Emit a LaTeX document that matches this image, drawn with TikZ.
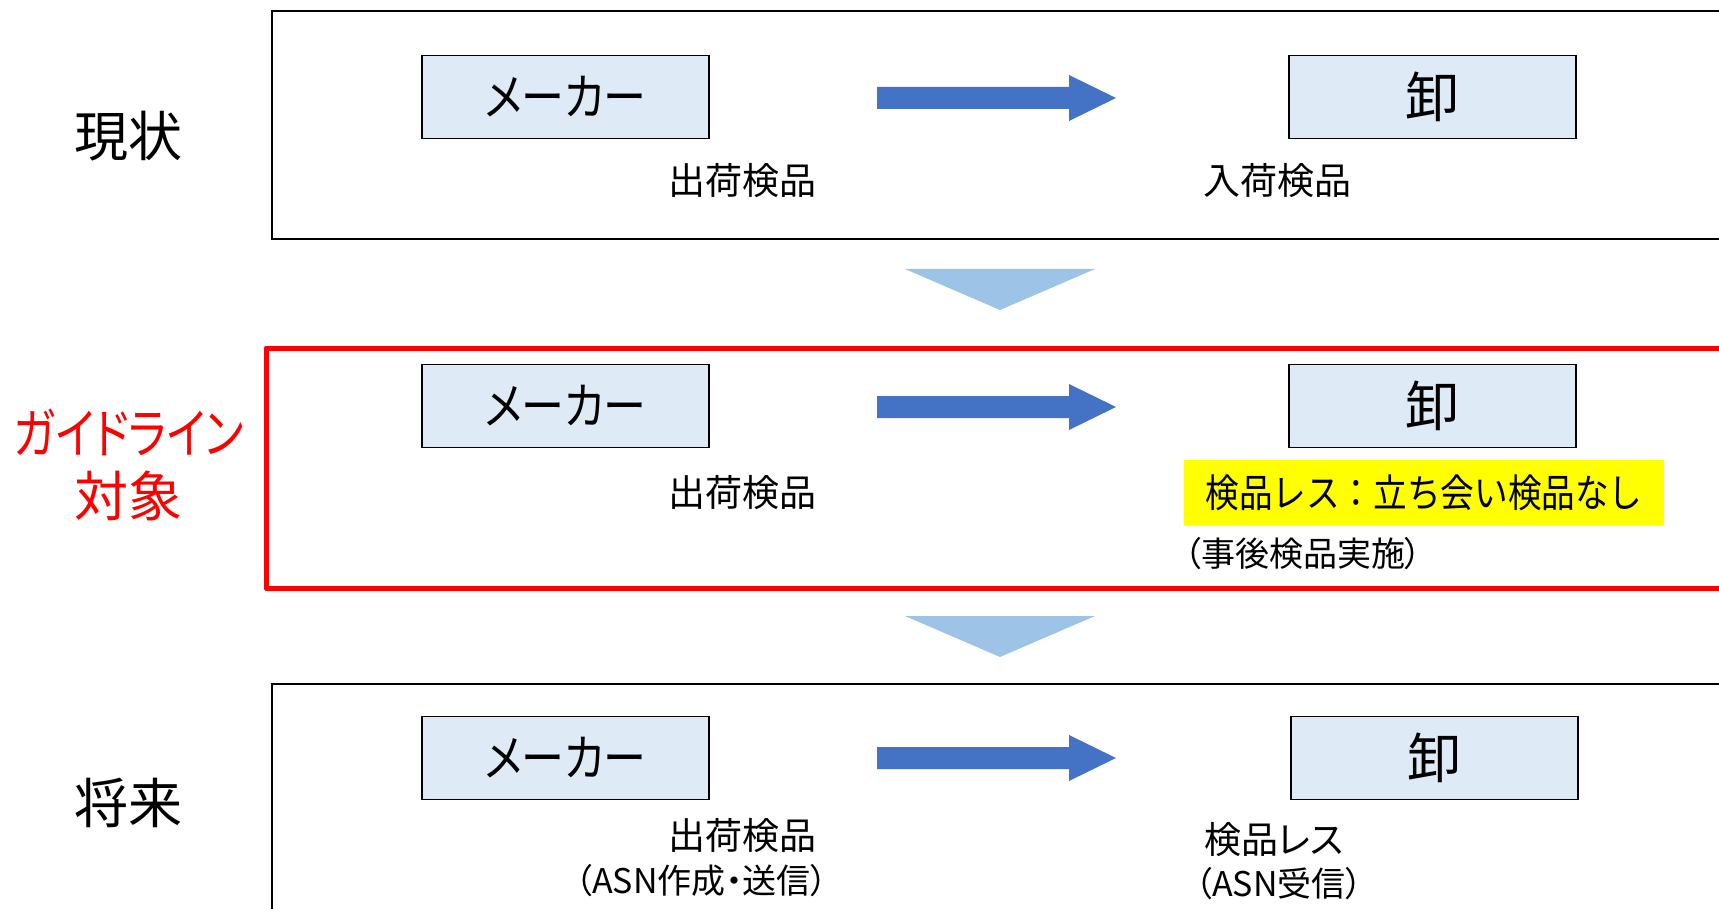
\documentclass[tikz,border=0pt]{standalone}
\usepackage{fontspec}
\usepackage{graphicx}
\setmainfont{Noto Sans CJK JP}
\newfontfamily\pf{Noto Sans CJK JP}[RawFeature=+palt]
\definecolor{boxblue}{HTML}{DEEBF7}
\definecolor{flowblue}{HTML}{4472C4}
\definecolor{triblue}{HTML}{9DC3E6}
\definecolor{hiyellow}{HTML}{FFFF00}
\begin{document}
\begin{tikzpicture}[x=1pt,y=-1pt,
  frame/.style={draw=black,line width=1.8pt},
  redframe/.style={draw=red,line width=5pt,line join=round},
  party/.style={draw=black,line width=1.6pt,fill=boxblue,minimum width=287pt,minimum height=83pt,inner sep=0pt,font=\fontsize{50}{54}\selectfont\pf},
  lbl/.style={inner sep=0pt,font=\fontsize{37}{44}\selectfont},
  side/.style={inner sep=0pt,font=\fontsize{54}{60}\selectfont\pf},
  bigarrow/.pic={\fill[flowblue] (0,-11) -- (192,-11) -- (192,-23) -- (239,0) -- (192,23) -- (192,11) -- (0,11) -- cycle;},
  downtri/.pic={\fill[triblue] (-95,0) -- (95,0) -- (0,41) -- cycle;}
]
\useasboundingbox (0,0) rectangle (1719,909);
\clip (0,0) rectangle (1719,909);
\fill[white] (0,0) rectangle (1719,909);

% frames
\draw[frame] (272,11) rectangle (1740,239);
\draw[redframe] (266,348) rectangle (1740,588);
\draw[frame] (272,684) rectangle (1740,930);

% side labels
\node[side] (now) at (128,136) {現状};
\node[side,text=red] (gl1) at (129,432) {\resizebox{230pt}{\height}{ガイドライン}};
\node[side,text=red] (gl2) at (128,496) {対象};
\node[side] (fut) at (128,803) {将来};

% row 1
\node[party] (m1) at (565.5,97) {\resizebox{162pt}{\height}{メーカー}};
\node[party,font=\fontsize{54}{58}\selectfont] (o1) at (1432.5,97) {卸};
\pic at (877,98) {bigarrow};
\node[lbl] (s1) at (742,181) {出荷検品};
\node[lbl] (r1) at (1277,181) {入荷検品};

\pic at (1000,269) {downtri};

% row 2
\node[party] (m2) at (565.5,406) {\resizebox{162pt}{\height}{メーカー}};
\node[party,font=\fontsize{54}{58}\selectfont] (o2) at (1432.5,406) {卸};
\pic at (877,407) {bigarrow};
\node[lbl] (s2) at (742,493) {出荷検品};
\node[fill=hiyellow,minimum width=480pt,minimum height=65pt,inner sep=0pt,font=\fontsize{39}{44}\selectfont] (y2) at (1424,492.5) {\resizebox{437pt}{\height}{検品レス：立ち会い検品なし}};
\node[lbl,anchor=west,font=\fontsize{34}{40}\selectfont\pf] (r2) at (1184,554) {（事後検品実施）};

\pic at (1000,616) {downtri};

% row 3
\node[party] (m3) at (565.5,758) {\resizebox{162pt}{\height}{メーカー}};
\node[party,font=\fontsize{54}{58}\selectfont] (o3) at (1434.5,758) {卸};
\pic at (877,758) {bigarrow};
\node[lbl] (s3) at (742,836) {出荷検品};
\node[lbl,anchor=east,font=\fontsize{34}{40}\selectfont\pf] (s3b) at (828,881) {（ASN作成・送信）};
\node[lbl,anchor=west,font=\fontsize{37}{44}\selectfont\pf] (r3) at (1204,840) {検品レス};
\node[lbl,anchor=west,font=\fontsize{34}{40}\selectfont\pf] (r3b) at (1195,884) {（ASN受信）};
\end{tikzpicture}
\end{document}
